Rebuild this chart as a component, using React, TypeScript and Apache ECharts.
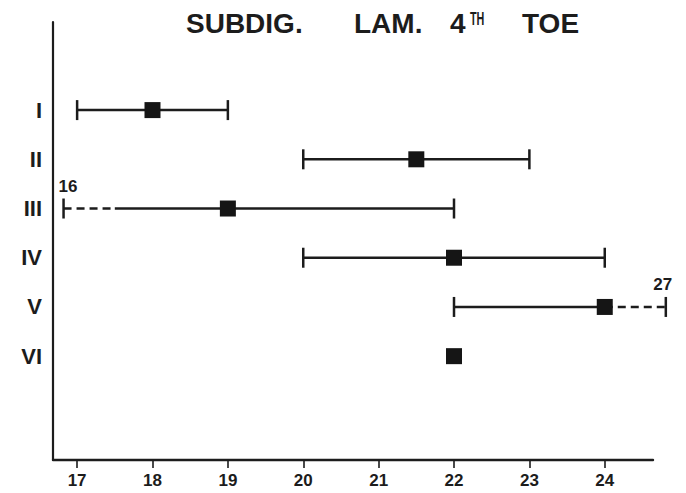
import React, { useEffect, useRef } from "react";
import * as echarts from "echarts";

const rowLabels = ["I", "II", "III", "IV", "V", "VI"];
const rowPos = [1, 2, 3, 4, 5, 6];
const lows: (number | null)[] = [17, 20, 16, 20, 22, null];
const means = [18, 21.5, 19, 22, 24, 22];
const highs: (number | null)[] = [19, 23, 22, 24, 27, null];
const xTicks = [17, 18, 19, 20, 21, 22, 23, 24];

const X_MIN = 16.68;
const X_MAX = 24.64;
const Y_MIN = -0.79;
const Y_MAX = 8.11;
// plotted positions of off-scale extremes (axis breaks)
const LOW_BREAK = 16.82;
const LOW_DASH_END = 17.5;
const HIGH_BREAK = 24.81;

const INK = "#1c1c1c";
const NARROW = '"Liberation Sans Narrow", "Liberation Sans", Arial, sans-serif';
const SANS = '"Liberation Sans", Arial, sans-serif';

export default function App() {
  const ref = useRef<HTMLDivElement>(null);
  useEffect(() => {
    if (!ref.current) return;
    const chart = echarts.init(ref.current, null, { renderer: "svg" });
    const data = rowPos.map((r, i) => [r, means[i]]);
    const renderItem = (params: any, api: any) => {
      const i = params.dataIndex;
      const row = rowPos[i];
      const low = lows[i];
      const high = highs[i];
      const mean = means[i];
      const children: any[] = [];
      const lineStyle = { stroke: INK, lineWidth: 2.5 };
      const dashStyle = { stroke: INK, lineWidth: 2.5, lineDash: [8, 5] };
      if (low != null && high != null) {
        const offLow = low < X_MIN;
        const offHigh = high > X_MAX;
        const dLow = offLow ? LOW_BREAK : low;
        const dHigh = offHigh ? HIGH_BREAK : high;
        const sStart = offLow ? LOW_DASH_END : dLow;
        const sEnd = offHigh ? mean : dHigh;
        const a = api.coord([sStart, row]);
        const b = api.coord([sEnd, row]);
        children.push({ type: "line", shape: { x1: a[0], y1: a[1], x2: b[0], y2: b[1] }, style: lineStyle });
        if (offLow) {
          const c = api.coord([dLow, row]);
          children.push({ type: "line", shape: { x1: c[0], y1: c[1], x2: a[0], y2: a[1] }, style: dashStyle });
          children.push({
            type: "text",
            x: c[0] - 5,
            y: c[1] - 22,
            style: { text: String(low), font: `bold 17px ${NARROW}`, fill: INK, textAlign: "left", textVerticalAlign: "middle" },
          });
        }
        if (offHigh) {
          const c = api.coord([dHigh, row]);
          children.push({ type: "line", shape: { x1: b[0], y1: b[1], x2: c[0], y2: c[1] }, style: dashStyle });
          children.push({
            type: "text",
            x: c[0] - 3,
            y: c[1] - 22,
            style: { text: String(high), font: `bold 17px ${NARROW}`, fill: INK, textAlign: "center", textVerticalAlign: "middle" },
          });
        }
        for (const v of [dLow, dHigh]) {
          const p = api.coord([v, row]);
          children.push({ type: "line", shape: { x1: p[0], y1: p[1] - 10, x2: p[0], y2: p[1] + 10 }, style: lineStyle });
        }
      }
      const m = api.coord([mean, row]);
      children.push({ type: "rect", shape: { x: m[0] - 8, y: m[1] - 8, width: 16, height: 16 }, style: { fill: "#151515" } });
      return { type: "group", children };
    };

    chart.setOption({
      animation: false,
      backgroundColor: "#ffffff",
      grid: { left: 53, right: 33, top: 22, bottom: 33, containLabel: false },
      xAxis: {
        type: "value",
        min: X_MIN,
        max: X_MAX,
        axisLine: { show: true, onZero: false, lineStyle: { color: INK, width: 2.4 } },
        axisTick: { show: true, customValues: xTicks, length: 8, inside: false, lineStyle: { color: INK, width: 1.6 } },
        axisLabel: {
          customValues: xTicks,
          margin: 12,
          color: INK,
          fontSize: 17,
          fontWeight: "bold",
          fontFamily: NARROW,
        },
        splitLine: { show: false },
      },
      yAxis: {
        type: "value",
        inverse: true,
        min: Y_MIN,
        max: Y_MAX,
        axisLine: { show: true, onZero: false, lineStyle: { color: INK, width: 2.2 } },
        axisTick: { show: false },
        axisLabel: {
          customValues: rowPos,
          formatter: (v: number) => rowLabels[rowPos.indexOf(v)] ?? "",
          margin: 11,
          color: INK,
          fontSize: 22,
          fontWeight: "bold",
          fontFamily: NARROW,
        },
        splitLine: { show: false },
      },
      graphic: [
        { type: "text", x: 186, y: 23, style: { text: "SUBDIG.", font: `bold 28px ${SANS}`, fill: INK, textVerticalAlign: "middle" } },
        { type: "text", x: 354, y: 23, style: { text: "LAM.", font: `bold 28px ${SANS}`, fill: INK, textVerticalAlign: "middle" } },
        { type: "text", x: 450, y: 23, style: { text: "4", font: `bold 28px ${SANS}`, fill: INK, textVerticalAlign: "middle" } },
        { type: "text", x: 470, y: 19, scaleX: 0.6, style: { text: "TH", font: `bold 18px ${SANS}`, fill: INK, textVerticalAlign: "middle" } },
        { type: "text", x: 522, y: 23, style: { text: "TOE", font: `bold 28px ${SANS}`, fill: INK, textVerticalAlign: "middle" } },
      ],
      series: [
        {
          type: "custom",
          clip: false,
          renderItem,
          data,
          encode: { x: 1, y: 0 },
        },
      ],
    });
    return () => chart.dispose();
  }, []);
  return (
    <div
      ref={ref}
      style={{ position: "fixed", left: 0, top: 0, width: 686, height: 493, background: "#fff" }}
    />
  );
}
